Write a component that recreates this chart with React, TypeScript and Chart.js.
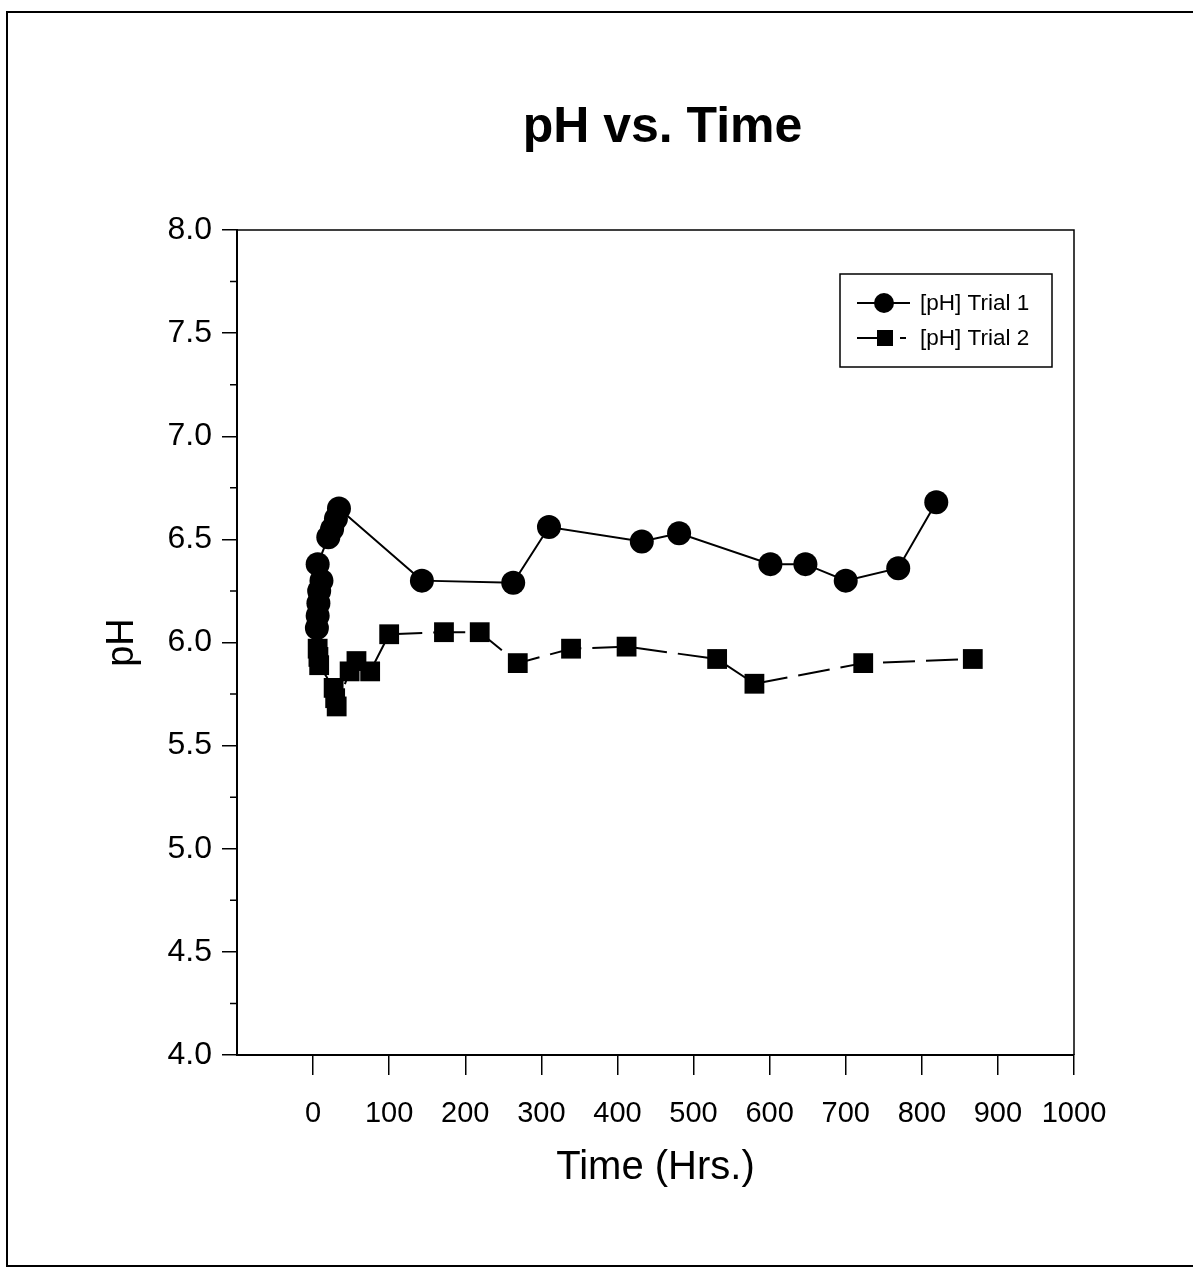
import { useEffect, useRef } from 'react';
import { Chart, registerables } from 'chart.js';

Chart.register(...registerables);

const titleText = 'pH vs. Time';
const xTitle = 'Time (Hrs.)';
const yTitle = 'pH';
const seriesNames = ['[pH] Trial 1', '[pH] Trial 2'];

const xTicks = [0, 100, 200, 300, 400, 500, 600, 700, 800, 900, 1000];
const yTicks = [4.0, 4.5, 5.0, 5.5, 6.0, 6.5, 7.0, 7.5, 8.0];
const yMinorTicks = [4.25, 4.75, 5.25, 5.75, 6.25, 6.75, 7.25, 7.75];

const trial1Hours = [5, 6, 7, 8, 11, 6, 20, 25, 30, 34, 143, 263, 310, 432, 481, 601, 647, 700, 769, 819];
const trial1PH = [6.07, 6.13, 6.19, 6.25, 6.30, 6.38, 6.51, 6.55, 6.60, 6.65, 6.30, 6.29, 6.56, 6.49, 6.53, 6.38, 6.38, 6.30, 6.36, 6.68];

const trial2Hours = [6, 7, 8, 27, 29, 31, 48, 57, 75, 100, 172, 219, 269, 339, 412, 531, 580, 723, 867];
const trial2PH = [5.97, 5.93, 5.89, 5.78, 5.73, 5.69, 5.86, 5.91, 5.86, 6.04, 6.05, 6.05, 5.90, 5.97, 5.98, 5.92, 5.80, 5.90, 5.92];

const FONT = '"Liberation Sans", Arial, Helvetica, sans-serif';

const decorPlugin = {
  id: 'decor',
  afterDraw(chart: any) {
    const { ctx, chartArea: a, scales } = chart;
    ctx.save();
    ctx.strokeStyle = '#000';
    ctx.fillStyle = '#000';

    // page frame
    ctx.lineWidth = 2;
    ctx.beginPath();
    ctx.moveTo(1193, 12);
    ctx.lineTo(7, 12);
    ctx.lineTo(7, 1266);
    ctx.lineTo(1193, 1266);
    ctx.stroke();

    // plot box top & right
    ctx.lineWidth = 1.5;
    ctx.beginPath();
    ctx.moveTo(a.left, a.top);
    ctx.lineTo(a.right, a.top);
    ctx.lineTo(a.right, a.bottom);
    ctx.stroke();

    // minor y ticks
    const ys = scales.y;
    ctx.beginPath();
    for (const v of yMinorTicks) {
      const py = ys.getPixelForValue(v);
      ctx.moveTo(a.left - 7, py);
      ctx.lineTo(a.left, py);
    }
    ctx.stroke();

    // title
    ctx.font = `bold 50px ${FONT}`;
    ctx.textAlign = 'center';
    ctx.textBaseline = 'alphabetic';
    ctx.fillText(titleText, (a.left + a.right) / 2 + 7, 142);

    // legend
    const bx = a.right - 234;
    const by = a.top + 44;
    const bw = 212;
    const bh = 93;
    ctx.lineWidth = 1.5;
    ctx.strokeRect(bx, by, bw, bh);
    const r1 = by + 29;
    const r2 = by + 64;
    // entry 1
    ctx.lineWidth = 2;
    ctx.setLineDash([]);
    ctx.beginPath();
    ctx.moveTo(bx + 17, r1);
    ctx.lineTo(bx + 70, r1);
    ctx.stroke();
    ctx.beginPath();
    ctx.arc(bx + 44, r1, 10, 0, Math.PI * 2);
    ctx.fill();
    // entry 2
    ctx.beginPath();
    ctx.moveTo(bx + 17, r2);
    ctx.lineTo(bx + 40, r2);
    ctx.moveTo(bx + 60, r2);
    ctx.lineTo(bx + 66, r2);
    ctx.stroke();
    ctx.fillRect(bx + 37, r2 - 8, 16, 16);
    ctx.font = `22.5px ${FONT}`;
    ctx.textAlign = 'left';
    ctx.textBaseline = 'middle';
    ctx.fillText(seriesNames[0], bx + 80, r1 + 1);
    ctx.fillText(seriesNames[1], bx + 80, r2 + 1);

    ctx.restore();
  },
};

export default function App() {
  const ref = useRef<HTMLCanvasElement | null>(null);

  useEffect(() => {
    document.body.style.margin = '0';
    const canvas = ref.current;
    if (!canvas) return;
    Chart.defaults.font.family = FONT;
    Chart.defaults.color = '#000';

    const chart = new Chart(canvas, {
      type: 'line',
      data: {
        datasets: [
          {
            label: seriesNames[0],
            data: trial1Hours.map((h, i) => ({ x: h, y: trial1PH[i] })),
            borderColor: '#000',
            backgroundColor: '#000',
            borderWidth: 2,
            pointStyle: 'circle',
            pointRadius: 12,
            pointHoverRadius: 12,
            pointBorderWidth: 0,
            tension: 0,
          },
          {
            label: seriesNames[1],
            data: trial2Hours.map((h, i) => ({ x: h, y: trial2PH[i] })),
            borderColor: '#000',
            backgroundColor: '#000',
            borderWidth: 2,
            borderDash: [32, 11],
            pointStyle: 'rect',
            pointRadius: 14,
            pointHoverRadius: 14,
            pointBorderWidth: 0,
            tension: 0,
          },
        ],
      },
      options: {
        animation: false,
        responsive: false,
        devicePixelRatio: 1,
        events: [],
        layout: { padding: { top: 230, left: 100, right: 119, bottom: 80 } },
        plugins: {
          legend: { display: false },
          title: { display: false },
          tooltip: { enabled: false },
        },
        scales: {
          x: {
            type: 'linear',
            min: -100,
            max: 1000,
            afterBuildTicks: (s: any) => {
              s.ticks = xTicks.map((v) => ({ value: v }));
            },
            afterFit: (s: any) => {
              s.height = 137;
            },
            ticks: {
              font: { size: 29 },
              color: '#000',
              padding: 22,
              maxRotation: 0,
              autoSkip: false,
              callback: (v: any) => String(v),
            },
            grid: {
              drawOnChartArea: false,
              drawTicks: true,
              tickLength: 20,
              color: '#000',
              lineWidth: 1.5,
            },
            border: { display: true, color: '#000', width: 2 },
            title: {
              display: true,
              text: xTitle,
              font: { size: 40 },
              color: '#000',
              padding: 0,
            },
          },
          y: {
            type: 'linear',
            min: 4,
            max: 8,
            afterBuildTicks: (s: any) => {
              s.ticks = yTicks.map((v) => ({ value: v }));
            },
            afterFit: (s: any) => {
              s.width = 137;
            },
            ticks: {
              font: { size: 32 },
              color: '#000',
              padding: 10,
              autoSkip: false,
              callback: (v: any) => Number(v).toFixed(1),
            },
            grid: {
              drawOnChartArea: false,
              drawTicks: true,
              tickLength: 15,
              color: '#000',
              lineWidth: 1.5,
            },
            border: { display: true, color: '#000', width: 2 },
            title: {
              display: true,
              text: yTitle,
              font: { size: 38 },
              color: '#000',
              padding: 0,
            },
          },
        },
      },
      plugins: [decorPlugin],
    } as any);

    return () => chart.destroy();
  }, []);

  return <canvas ref={ref} width={1193} height={1272} style={{ display: 'block' }} />;
}
